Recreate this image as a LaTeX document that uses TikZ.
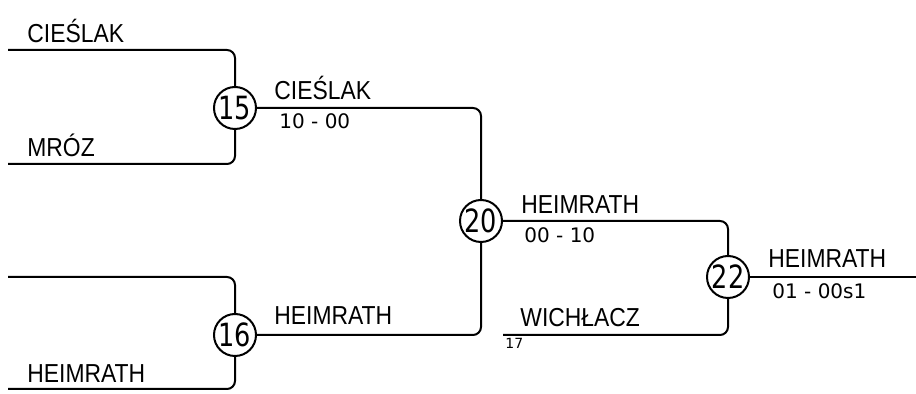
\documentclass[tikz,border=0pt]{standalone}
\usepackage{fontspec}
\setmainfont{Liberation Sans}[FakeStretch=0.88]
\newfontfamily\scorefont{DejaVu Sans}
\newfontfamily\seedfont{DejaVu Sans}[FakeStretch=0.8]
\usetikzlibrary{positioning}

\begin{document}
\begin{tikzpicture}[x=0.5pt,y=-0.5pt,
	player/.style={anchor=base west,inner sep=0pt,font=\fontsize{13}{15}\selectfont},
	score/.style={anchor=base west,inner sep=0pt,font=\scorefont\fontsize{10}{12}\selectfont},
	match/.style={circle,draw,line width=1pt,fill=white,minimum size=21pt,inner sep=0pt,font=\seedfont\fontsize{16}{18}\selectfont},
	wire/.style={line width=1pt,rounded corners=4pt}]

	\useasboundingbox (0,0) rectangle (916,394);

	% match circles
	\node (M15)[match] at (235,108) {15};
	\node (M16)[match] at (235,335) {16};
	\node (M20)[match] at (481,221) {20};
	\node (M22)[match] at (728,277) {22};

	% free ends of the lines
	\coordinate (A1) at (8,50);
	\coordinate (A2) at (8,164);
	\coordinate (B1) at (8,277);
	\coordinate (B2) at (8,389);
	\coordinate (C1) at (503,335);
	\coordinate (C2) at (916,277);

	\draw [wire] (A1) -| (M15);
	\draw [wire] (A2) -| (M15);
	\draw [wire] (B1) -| (M16);
	\draw [wire] (B2) -| (M16);
	\draw [wire] (M15) -| (M20);
	\draw [wire] (M16) -| (M20);
	\draw [wire] (M20) -| (M22);
	\draw [wire] (C1) -| (M22);
	\draw [wire] (M22) -- (C2);

	% names
	\node (N1)[player] at (27,42.7) {CIEŚLAK};
	\node (N2)[player] at (27,156.7) {MRÓZ};
	\node (N3)[player] at (27,382.3) {HEIMRATH};
	\node (N4)[player] at (274,100) {CIEŚLAK};
	\node (N5)[player] at (274,325) {HEIMRATH};
	\node (N6)[player] at (521,213.3) {HEIMRATH};
	\node (N7)[player] at (520,326.7) {WICHŁACZ};
	\node (N8)[player] at (768,267.3) {HEIMRATH};

	% scores
	\node (S15)[score] at (279,128.3) {10 - 00};
	\node (S20)[score] at (524,242.7) {00 - 10};
	\node (S22)[score] at (772,299) {01 - 00s1};
	\node (S17)[score,font=\scorefont\fontsize{7}{8}\selectfont] at (505,349) {17};

\end{tikzpicture}
\end{document}
